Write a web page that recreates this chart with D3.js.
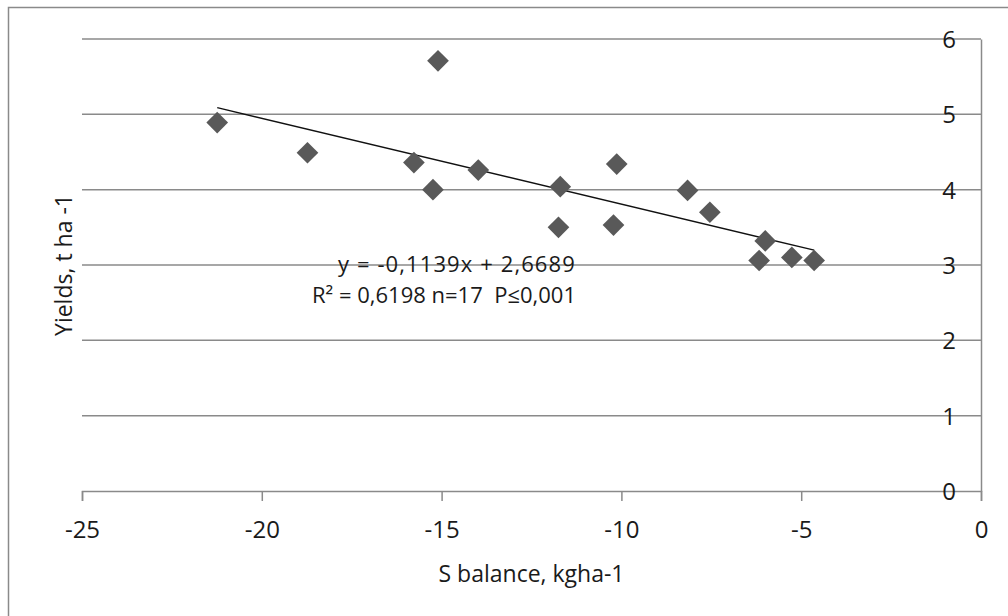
<html>
  <head>
    <meta charset="utf-8">
    <title>S balance vs yields</title>
    <style>
      body { margin: 0; background: #fff; }
      text { font-family: "Open Sans", "Noto Sans", sans-serif; fill: #1a1a1a; }
      .axis path, .axis line { stroke: #8a8a8a; stroke-width: 1.5px; }
      .axis text { font-size: 24px; }
      .grid { stroke: #8a8a8a; stroke-width: 1.5px; }
      .eq { font-size: 22px; white-space: pre; }
    </style>
  </head>
  <body>
    <script src="https://cdn.jsdelivr.net/npm/d3@7"></script>
    <script>
      // data
      var sBalance = [-21.24, -18.73, -15.10, -15.77, -15.24, -13.98, -11.70, -11.75,
                      -10.13, -10.22, -8.16, -7.54, -6.00, -6.17, -5.26, -4.64];
      var yields   = [4.89, 4.49, 5.71, 4.36, 4.00, 4.26, 4.04, 3.50,
                      4.34, 3.53, 3.99, 3.70, 3.32, 3.06, 3.10, 3.06];
      var xTicks = [-25, -20, -15, -10, -5, 0];
      var yTicks = [0, 1, 2, 3, 4, 5, 6];
      // trendline from the equation printed on the chart
      var slope = -0.1139, intercept = 2.6689;
      var eqLine1 = "y = -0,1139x + 2,6689";
      var eqLine2 = "R\u00b2 = 0,6198 n=17  P\u22640,001";

      var width = 1008, height = 616;
      var svg = d3.select("body").append("svg")
                  .attr("width", width)
                  .attr("height", height);

      // outer chart border (runs off the right/bottom edges)
      svg.append("rect")
         .attr("x", 8.5).attr("y", 7.5)
         .attr("width", 1100).attr("height", 700)
         .attr("fill", "none")
         .attr("stroke", "#8a8a8a")
         .attr("stroke-width", 1.5);

      var x = d3.scaleLinear().domain([-25, 0]).range([82, 981]);
      var y = d3.scaleLinear().domain([0, 6]).range([491, 39]);

      // horizontal gridlines
      svg.append("g").selectAll("line")
         .data(yTicks.filter(function(d) { return d > 0; }))
         .enter()
         .append("line")
         .attr("class", "grid")
         .attr("x1", x(-25)).attr("x2", x(0))
         .attr("y1", function(d) { return y(d); })
         .attr("y2", function(d) { return y(d); });

      // x axis
      var gx = svg.append("g")
                  .attr("class", "axis")
                  .attr("transform", "translate(0," + y(0) + ")")
                  .call(d3.axisBottom(x)
                          .tickValues(xTicks)
                          .tickSize(10)
                          .tickPadding(20));
      gx.selectAll("text").text(function(d) { return d < 0 ? "-" + Math.abs(d) : d; });

      // y axis sits at x = 0 on the right, labels drawn left of it
      var gy = svg.append("g")
                  .attr("class", "axis")
                  .attr("transform", "translate(" + x(0) + ",0)")
                  .call(d3.axisLeft(y)
                          .tickValues(yTicks)
                          .tickFormat(d3.format("d"))
                          .tickSize(0)
                          .tickSizeOuter(0)
                          .tickPadding(25));
      gy.selectAll("text").attr("dy", "0.36em");

      // trendline
      var xMin = d3.min(sBalance), xMax = d3.max(sBalance);
      svg.append("line")
         .attr("x1", x(xMin)).attr("y1", y(slope * xMin + intercept))
         .attr("x2", x(xMax)).attr("y2", y(slope * xMax + intercept))
         .attr("stroke", "#111")
         .attr("stroke-width", 1.4);

      // points
      var diamond = d3.symbol().type(d3.symbolDiamond2).size(300);
      svg.append("g").selectAll("path")
         .data(sBalance)
         .enter()
         .append("path")
         .attr("d", diamond)
         .attr("transform", function(d, i) {
           return "translate(" + x(d) + "," + y(yields[i]) + ")";
         })
         .attr("fill", "#595959");

      // equation text
      svg.append("text")
         .attr("class", "eq")
         .attr("x", 338).attr("y", 272)
         .style("letter-spacing", "1.1px")
         .text(eqLine1);
      svg.append("text")
         .attr("class", "eq")
         .attr("x", 312).attr("y", 303)
         .text(eqLine2);

      // axis titles
      svg.append("text")
         .attr("x", (x(-25) + x(0)) / 2)
         .attr("y", 582)
         .attr("text-anchor", "middle")
         .style("font-size", "23px")
         .text("S balance, kgha-1");

      svg.append("text")
         .attr("transform", "translate(72," + (y(0) + y(6)) / 2 + ") rotate(-90)")
         .attr("text-anchor", "middle")
         .style("font-size", "23px")
         .text("Yields, t ha -1");
    </script>
  </body>
</html>
